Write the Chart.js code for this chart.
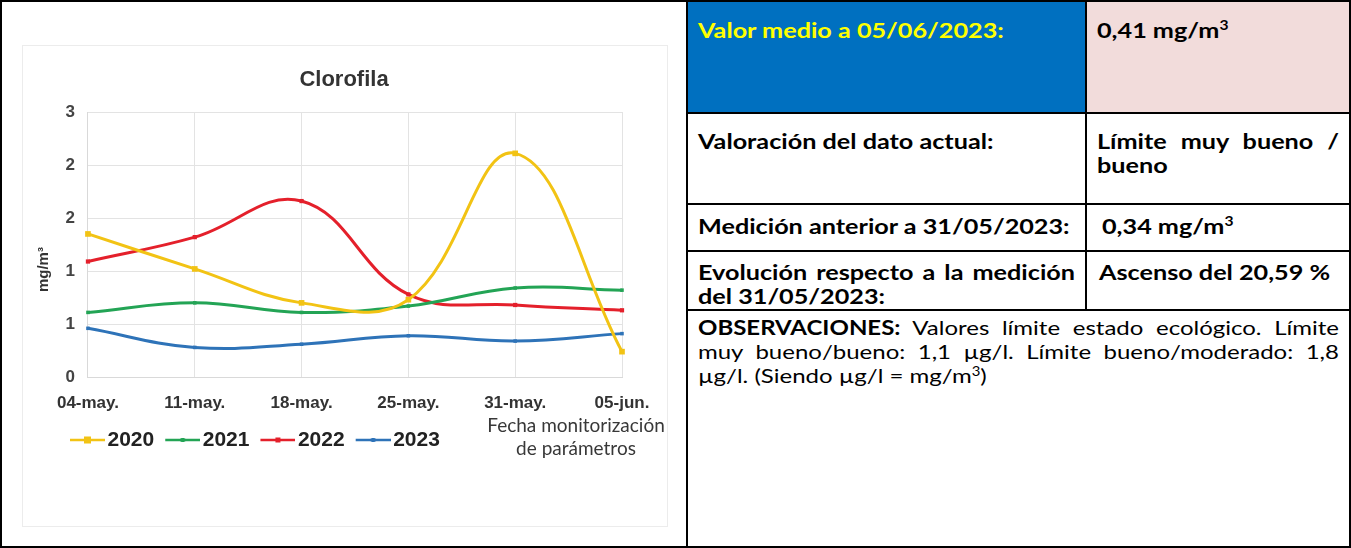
<!DOCTYPE html>
<html lang="es">
<head>
<meta charset="utf-8">
<title>Clorofila</title>
<script src="https://cdn.jsdelivr.net/npm/chart.js@4.4.1/dist/chart.umd.min.js"></script>
<style>
  html, body { margin: 0; padding: 0; background: #fff; }
  #pagina { position: relative; width: 1351px; height: 548px; overflow: hidden; font-family: Lato, "Open Sans", sans-serif; color: #000; }
  .celda { position: absolute; box-sizing: border-box; border: 2px solid #000; padding-left: 10px; padding-right: 10px; }
  .esc { width: calc(100% / 1.2); transform: scaleX(1.2); transform-origin: 0 0; font-size: 21px; line-height: 24px; font-weight: bold; }
  .esc2 { width: calc(100% / 1.2); transform: scaleX(1.2); transform-origin: 0 0; font-size: 20px; line-height: 24px; }
  .lj { text-align: justify; text-align-last: justify; white-space: nowrap; }
  #marco { position: absolute; left: 22px; top: 45px; width: 646px; height: 482px; box-sizing: border-box; border: 1px solid #ececec; }
  #grafico { position: absolute; left: 22px; top: 45px; }
  #ejeX { position: absolute; left: 466px; top: 413px; width: 220px; text-align: center; font-size: 19px; line-height: 23px; color: #383838; }
  sup { font-size: 0.62em; line-height: 0; vertical-align: 0.6em; }
</style>
</head>
<body>
<div id="pagina">
  <div class="celda" style="left:0;top:0;width:688px;height:548px;"></div>
  <div id="marco"></div>
  <canvas id="grafico" width="646" height="482"></canvas>
  <div id="ejeX">Fecha monitorización<br>de parámetros</div>

  <div class="celda" style="left:686px;top:0;width:401px;height:114px;background:#0070c0;color:#ffff00;padding-top:16px;"><div class="esc">Valor medio a 05/06/2023:</div></div>
  <div class="celda" style="left:1085px;top:0;width:266px;height:114px;background:#f2dcdb;padding-top:16px;"><div class="esc">0,41 mg/m<sup>3</sup></div></div>

  <div class="celda" style="left:686px;top:112px;width:401px;height:93px;padding-top:15px;"><div class="esc">Valoración del dato actual:</div></div>
  <div class="celda" style="left:1085px;top:112px;width:266px;height:93px;padding-top:15px;"><div class="esc"><div class="lj">Límite muy bueno /</div><div>bueno</div></div></div>

  <div class="celda" style="left:686px;top:203px;width:401px;height:49px;padding-top:9px;"><div class="esc">Medición anterior a 31/05/2023:</div></div>
  <div class="celda" style="left:1085px;top:203px;width:266px;height:49px;padding-top:9px;padding-left:15px;"><div class="esc">0,34 mg/m<sup>3</sup></div></div>

  <div class="celda" style="left:686px;top:250px;width:401px;height:61px;padding-top:8px;"><div class="esc"><div class="lj">Evolución respecto a la medición</div><div>del 31/05/2023:</div></div></div>
  <div class="celda" style="left:1085px;top:250px;width:266px;height:61px;padding-top:8px;padding-left:12px;"><div class="esc">Ascenso del 20,59 %</div></div>

  <div class="celda" style="left:686px;top:309px;width:665px;height:239px;padding-top:4px;"><div class="esc2">
    <div class="lj"><b>OBSERVACIONES:</b> Valores límite estado ecológico. Límite</div>
    <div class="lj">muy bueno/bueno: 1,1 µg/l. Límite bueno/moderado: 1,8</div>
    <div>µg/l. (Siendo µg/l = mg/m<sup>3</sup>)</div>
  </div></div>
</div>

<script>
// datos (mg/m3)
var fechas = ['04-may.', '11-may.', '18-may.', '25-may.', '31-may.', '05-jun.'];
var anios = ['2020', '2021', '2022', '2023'];
var valores2020 = [1.35, 1.02, 0.70, 0.73, 2.11, 0.24];
var valores2021 = [0.61, 0.70, 0.61, 0.67, 0.84, 0.82];
var valores2022 = [1.09, 1.32, 1.66, 0.78, 0.68, 0.63];
var valores2023 = [0.46, 0.28, 0.31, 0.39, 0.34, 0.41];
var etiquetasY = ['0', '1', '1', '2', '2', '3'];

// simbolo de leyenda: linea con marcador en medio (parte izquierda transparente)
function simbolo(color, lado) {
    var c = document.createElement('canvas');
    c.width = 54;
    c.height = 12;
    var g = c.getContext('2d');
    g.strokeStyle = color;
    g.lineWidth = 2.5;
    g.beginPath();
    g.moveTo(19, 6);
    g.lineTo(54, 6);
    g.stroke();
    g.fillStyle = color;
    g.fillRect(36.5 - lado / 2, 6 - lado / 2, lado, lado);
    return c;
}

function serie(nombre, datos, color, radio) {
    return {
        label: nombre,
        data: datos,
        borderColor: color,
        backgroundColor: color,
        borderWidth: 3,
        tension: 0.4,
        pointStyle: 'rect',
        pointRadius: radio,
        pointBorderWidth: 0,
        fill: false
    };
}

var simbolos = [
    simbolo('#f2c314', 7),
    simbolo('#23a455', 4),
    simbolo('#e4202b', 5),
    simbolo('#2e73b8', 4)
];

// colocar titulo y leyenda como en el original
var ajustes = {
    id: 'ajustes',
    afterLayout: function(chart) {
        chart.legend.left += 28.5;
        chart.legend.right += 28.5;
        chart.titleBlock.left += 17.75;
        chart.titleBlock.right += 17.75;
    }
};

var fuente = 'Liberation Sans, Arial, sans-serif';
var ctx = document.getElementById('grafico');
var grafico = new Chart(ctx, {
    type: 'line',
    data: {
        labels: fechas,
        datasets: [
            serie(anios[0], valores2020, '#f2c314', 4),
            serie(anios[1], valores2021, '#23a455', 2.5),
            serie(anios[2], valores2022, '#e4202b', 3),
            serie(anios[3], valores2023, '#2e73b8', 2.5)
        ]
    },
    options: {
        responsive: false,
        animation: false,
        layout: { padding: { left: 8.5, right: 46, top: 0, bottom: 66.5 } },
        plugins: {
            title: {
                display: true,
                text: 'Clorofila',
                color: '#333',
                font: { family: fuente, size: 22, weight: 'bold' },
                padding: { top: 21.8, bottom: 18.8 }
            },
            legend: {
                position: 'bottom',
                align: 'start',
                labels: {
                    usePointStyle: true,
                    pointStyleWidth: 38,
                    padding: 0,
                    color: '#222',
                    font: { family: fuente, size: 21, weight: 'bold' },
                    generateLabels: function(chart) {
                        var items = Chart.defaults.plugins.legend.labels.generateLabels(chart);
                        items.forEach(function(it, i) { it.pointStyle = simbolos[i]; });
                        return items;
                    }
                }
            },
            tooltip: { enabled: false }
        },
        scales: {
            x: {
                grid: { color: '#e3e3e3', drawTicks: false },
                border: { color: '#d9d9d9' },
                ticks: {
                    padding: 16,
                    color: '#333',
                    font: { family: fuente, size: 17, weight: 'bold' },
                    maxRotation: 0
                }
            },
            y: {
                min: 0,
                max: 2.5,
                grid: { color: '#e3e3e3', drawTicks: false },
                border: { color: '#d9d9d9' },
                ticks: {
                    stepSize: 0.5,
                    padding: 13,
                    color: '#444',
                    font: { family: fuente, size: 17, weight: 'bold' },
                    callback: function(value, index) { return etiquetasY[index]; }
                },
                title: {
                    display: true,
                    // espacios al final para bajar el titulo como en el original
                    text: 'mg/m³' + '\u00a0'.repeat(12),
                    color: '#333',
                    font: { family: fuente, size: 15, weight: 'bold' },
                    padding: { top: 4, bottom: 0 }
                }
            }
        }
    },
    plugins: [ajustes]
});
</script>
</body>
</html>
